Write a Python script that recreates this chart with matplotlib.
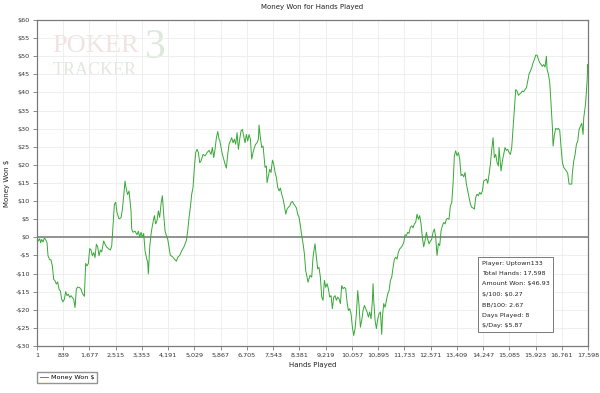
import matplotlib
matplotlib.use('Agg')
import matplotlib.pyplot as plt
from matplotlib.ticker import FuncFormatter

# Hands played (x) and cumulative money won in $ (y)
hands = [
    1, 44, 86, 118, 150, 193, 235, 278, 321, 353, 406, 448, 491, 534, 576, 619, 661, 704, 747, 789,
    832, 874, 917, 960, 1002, 1045, 1087, 1130, 1173, 1215, 1258, 1300, 1364, 1407, 1449, 1513, 1556, 1598, 1641, 1684,
    1726, 1769, 1812, 1854, 1897, 1939, 1982, 2025, 2067, 2131, 2174, 2216, 2280, 2344, 2387, 2429, 2472, 2514, 2557, 2621,
    2685, 2727, 2770, 2812, 2855, 2897, 2940,
    3004, 3025, 3067, 3131, 3195, 3238, 3280, 3323, 3366, 3408, 3451, 3493, 3536, 3557, 3600, 3643, 3685, 3749, 3791, 3834,
    3877, 3919, 3962, 4005, 4047, 4090, 4132, 4175, 4218, 4260, 4324, 4388, 4452, 4495, 4558, 4622, 4686, 4729, 4771, 4814,
    4857, 4899, 4942, 4984, 5027, 5070, 5112, 5155, 5197, 5240, 5304, 5368, 5432, 5496, 5560, 5602, 5645, 5687, 5730, 5773,
    5815,
    5836, 5879, 5921, 5964, 6006, 6049, 6092, 6134, 6177, 6219, 6262, 6305, 6347, 6390, 6432, 6475, 6518, 6560, 6603, 6645,
    6688, 6731, 6773, 6816, 6858, 6901, 6944, 6986, 7029, 7071, 7093, 7135, 7178, 7221, 7263, 7284, 7327, 7348, 7391, 7434,
    7476, 7519, 7561, 7604, 7647, 7689, 7732, 7774, 7817, 7860, 7902, 7945, 7987, 8030, 8073, 8115, 8158, 8200, 8243, 8286,
    8328, 8371, 8413, 8456, 8499, 8541,
    8583, 8657, 8720,
    8774, 8817, 8859, 8881, 8923, 8966, 9008, 9051, 9094, 9136, 9179, 9221, 9264, 9307, 9349, 9392, 9434, 9477, 9520, 9562,
    9605, 9647, 9690, 9733, 9775, 9818, 9860, 9903, 9946, 9988, 10031, 10073, 10116, 10159, 10201, 10244, 10286, 10329, 10372, 10414,
    10457, 10499, 10542, 10585, 10627, 10670, 10712, 10734, 10755, 10798, 10840, 10883, 10925, 10968, 11011, 11032, 11074, 11117, 11160, 11202,
    11245, 11287, 11330, 11373, 11415, 11458, 11500, 11543, 11586, 11628, 11671, 11713,
    11755, 11797, 11840, 11882, 11925, 11968, 12010, 12053, 12095, 12138, 12181, 12223, 12266, 12308, 12351, 12394, 12436, 12479, 12521, 12564,
    12607, 12649, 12692, 12734, 12777, 12820, 12862, 12905, 12947, 12990, 13033, 13075, 13118, 13160, 13203, 13246, 13288, 13331, 13373, 13416,
    13459, 13501, 13544, 13586, 13629, 13672, 13714, 13757, 13799, 13842, 13885, 13927, 13970, 14012, 14055, 14098, 14140, 14183, 14225, 14268,
    14311, 14353, 14396, 14438, 14481, 14524, 14566,
    14608, 14651, 14694, 14736, 14757, 14779, 14821, 14864, 14907, 14949, 14992, 15034, 15077, 15120, 15162, 15205, 15247, 15290, 15333, 15375,
    15418, 15460, 15503, 15546, 15588, 15631, 15673, 15716, 15759, 15801, 15844, 15886, 15929, 15972, 16014, 16057, 16099, 16142, 16185, 16227,
    16270, 16291, 16334, 16376, 16419, 16461, 16483, 16525, 16568, 16611, 16653, 16696, 16738, 16781, 16824, 16866, 16909, 16951, 16994, 17037,
    17079, 17100, 17143, 17186, 17228, 17271, 17313, 17356, 17398, 17441, 17462, 17505, 17526, 17569, 17590, 17598,
]
won = [
    0, -1.0, -0.4, -1.5, -0.6, -1.3, -0.2, -0.6, -1.5, -5.1, -6.2, -6.2, -7.9, -11.6, -12.0, -12.9, -12.3, -14.3, -14.8, -17.1,
    -17.8, -17.1, -15.0, -16.1, -15.7, -16.6, -16.1, -16.6, -17.1, -19.4, -14.3, -13.7, -13.9, -14.3, -15.4, -16.3, -7.2, -7.9, -7.2, -3.1,
    -3.5, -5.1, -4.2, -5.6, -1.9, -2.6, -5.1, -3.5, -4.0, -1.0, -1.9, -2.6, -3.1, -3.5, -2.4, 3.1, 9.1, 9.7, 6.8, 5.1,
    5.4, 7.7, 11.4, 15.5, 13.2, 11.8, 12.8,
    7.3, 2.3, 1.4, 1.7, 0.7, 1.7, 0, 1.4, 0, 1.1, -3.7, -5.5, -6.9, -10.1, -2.8, 0.9, 3.2, 6.0, 3.7, 4.6,
    7.3, 5.5, 9.2, 11.5, 6.4, 1.8, 0.5, -0.5, -2.8, -5.0, -5.3, -6.0, -6.6, -5.5, -5.0, -3.7, -2.8, -1.8, -0.9, 1.8,
    5.5, 8.3, 11.9, 13.8, 19.3, 23.4, 24.3, 23.4, 20.6, 21.1, 22.9, 22.5, 23.4, 24.0, 22.9, 24.8, 22.0, 24.3, 27.5, 29.2,
    27.1,
    26.8, 24.8, 22.9, 21.6, 20.2, 19.1, 22.9, 25.7, 26.6, 27.5, 26.1, 27.1, 25.7, 28.9, 24.3, 27.1, 29.4, 29.8, 28.0, 26.1,
    28.4, 26.6, 28.4, 27.1, 21.6, 23.4, 24.8, 25.7, 26.1, 27.1, 31.0, 27.5, 24.8, 25.2, 21.1, 19.3, 19.7, 15.1, 17.0, 18.8,
    17.9, 21.3, 20.2, 17.9, 16.5, 13.8, 12.8, 13.6, 11.9, 10.6, 8.7, 6.4, 7.8, 8.3, 8.7, 9.6, 9.9, 9.2, 8.7, 8.1,
    6.4, 5.5, 3.2, 0.5, -1.8, -4.6,
    -9.2, -12.4, -10.5,
    -11.0, -5.5, -2.8, -1.8, -5.5, -8.7, -8.3, -11.0, -16.5, -17.4, -11.9, -13.8, -12.8, -14.2, -16.5, -16.1, -19.7, -16.5, -16.1, -17.4,
    -16.5, -17.0, -18.3, -13.3, -14.2, -13.8, -14.2, -17.9, -20.2, -19.7, -21.1, -24.8, -27.1, -25.2, -21.1, -14.7, -18.8, -24.8, -22.9, -20.2,
    -18.8, -19.7, -20.6, -22.0, -20.6, -22.5, -17.4, -12.8, -17.4, -22.9, -25.2, -22.5, -21.1, -20.6, -26.8, -22.0, -18.3, -19.3, -17.4, -15.6,
    -14.7, -11.9, -11.0, -8.3, -6.0, -5.5, -6.0, -4.1, -3.2, -2.8, -2.3, -1.4,
    0.7, 0.5, 1.4, 1.1, 2.8, 3.2, 2.6, 3.7, 4.1, 6.4, 5.0, 6.0, 3.7, 0, -2.6, -0.9, 1.4, -0.5, -1.8, -1.1,
    -0.5, 1.4, 2.3, 0, -5.0, -1.7, -2.3, 1.8, 3.2, 4.1, 3.7, 5.0, 5.2, 5.0, 8.7, 9.6, 14.7, 22.5, 23.9, 22.5,
    23.4, 21.6, 17.0, 17.4, 16.7, 17.9, 14.7, 12.8, 11.0, 9.2, 8.3, 8.1, 7.8, 11.0, 11.9, 11.5, 12.4, 11.9, 12.8, 15.6,
    15.8, 16.1, 14.9, 17.4, 20.2, 24.3, 27.5,
    22.0, 22.9, 20.6, 19.7, 24.8, 22.5, 18.3, 21.1, 22.9, 24.8, 24.0, 24.3, 23.4, 22.9, 24.8, 30.3, 35.8, 40.8, 40.4, 39.2,
    39.6, 39.9, 40.4, 40.2, 40.8, 41.3, 43.1, 45.1, 45.9, 46.8, 48.2, 49.1, 50.3, 50.3, 49.1, 48.2, 47.7, 47.2, 47.7, 47.0,
    50.0, 46.3, 45.0, 42.7, 36.7, 30.3, 25.2, 28.4, 30.1, 29.8, 30.1, 29.5, 24.8, 20.6, 19.3, 18.8, 18.3, 17.6, 14.7, 14.7,
    14.7, 17.9, 21.1, 22.9, 25.7, 26.6, 29.8, 30.7, 31.5, 28.4, 33.0, 35.8, 37.6, 43.1, 47.7, 46.93,
]

x_ticks = [1, 839, 1677, 2515, 3353, 4191, 5029, 5867, 6705, 7543, 8381, 9219,
           10057, 10895, 11733, 12571, 13409, 14247, 15085, 15923, 16761, 17598]
y_ticks = list(range(-30, 61, 5))

stats = ["Player: Uptown133", "Total Hands: 17,598", "Amount Won: $46.93",
         "$/100: $0.27", "BB/100: 2.67", "Days Played: 8", "$/Day: $5.87"]

FRAME = '#7a7a7a'
LINE = '#35a835'

fig = plt.figure(figsize=(6, 3.93), dpi=100)
ax = fig.add_axes([37 / 600, 1 - 346 / 393, 551 / 600, 326 / 393])

# watermark
ax.text(0.028, 0.955, 'POKER', transform=ax.transAxes, fontsize=19, family='Liberation Serif',
        color='#f2e3e3', va='top', ha='left', zorder=0)
ax.text(0.029, 0.872, 'TRACKER', transform=ax.transAxes, fontsize=13, family='Liberation Serif',
        color='#e0e8e0', va='top', ha='left', zorder=0)
ax.text(0.196, 0.975, '3', transform=ax.transAxes, fontsize=30, family='Liberation Serif',
        color='#dbe9db', va='top', ha='left', zorder=0)

ax.axhline(0, color='#8a8a8a', lw=1.3, zorder=2)
line, = ax.plot(hands, won, color=LINE, lw=0.7, label='Money Won $', zorder=3)

ax.set_xlim(1, 17598)
ax.set_ylim(-30, 60)
ax.set_xticks(x_ticks)
ax.set_xticklabels([f'{t:,}' for t in x_ticks])
ax.set_yticks(y_ticks)
ax.yaxis.set_major_formatter(FuncFormatter(lambda v, p: f'-${-int(v)}' if v < 0 else f'${int(v)}'))
ax.grid(True, color='#ececec', lw=0.6, zorder=0)
ax.set_axisbelow(True)
ax.tick_params(labelsize=4.6, length=3, width=0.6, color=FRAME, pad=2, labelcolor='#333333')
for s in ax.spines.values():
    s.set_color(FRAME)
    s.set_linewidth(0.9)

ax.set_title('Money Won for Hands Played', fontsize=5, pad=8, color='#222222')
ax.set_xlabel('Hands Played', fontsize=5, labelpad=3, color='#222222')
ax.set_ylabel('Money Won $', fontsize=5, labelpad=4, color='#222222')

ax.text(0.807, 0.262, '\n'.join(stats), transform=ax.transAxes, fontsize=4.6, va='top', ha='left',
        linespacing=2.35, color='#222222', parse_math=False,
        bbox=dict(boxstyle='square,pad=0.55', fc='white', ec=FRAME, lw=0.7))

fig.legend(handles=[line], loc='upper left', bbox_to_anchor=(37 / 600, 1 - 372 / 393),
           fontsize=4.6, frameon=True, fancybox=False, edgecolor=FRAME, handlelength=1.3,
           borderpad=0.4, handletextpad=0.5, borderaxespad=0)

fig.savefig('out.png', dpi=100)
